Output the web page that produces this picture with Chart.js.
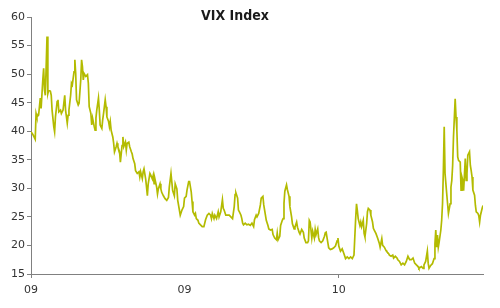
<!DOCTYPE html>
<html>
<head>
<meta charset="utf-8">
<script src="https://cdn.jsdelivr.net/npm/chart.js@4.4.1/dist/chart.umd.min.js"></script>
<style>
  html, body { margin: 0; padding: 0; background: #fff; }
  #wrap { width: 500px; height: 308px; }
</style>
</head>
<body>
<div id="wrap"><canvas id="chart"></canvas></div>
<script>
// dias desde 1 jan 2009 (leitura aproximada do gráfico)
const days = [
  0, 2, 5, 6, 7, 9, 11, 12, 14, 15, 16, 17, 19, 20, 21, 23, 24, 25, 27, 28,
  29, 31, 32, 33, 35, 36, 38, 40, 41, 43, 44, 45, 47, 48, 49, 51, 52, 53, 54, 56,
  57, 59, 60, 61, 62, 63, 65, 67, 68, 69, 71, 72, 73, 75, 76, 77, 78, 80, 81, 82,
  84, 85, 86, 88, 89, 90, 92, 93, 94, 95, 97, 98, 99, 101, 102, 103, 105, 106, 108, 109,
  110, 112, 113, 114, 116, 117, 119, 120, 121, 123, 124, 126, 128, 129, 130, 132, 133, 134, 136, 137,
  138, 139, 141, 142, 144, 145, 146, 147, 149, 150, 151, 153, 154, 155, 157, 159, 161, 163, 164, 166,
  167, 168, 170, 171, 173, 174, 177, 179, 181, 182, 184, 185, 187, 188, 190, 191, 192, 194, 195, 196,
  198, 199, 201, 203, 205, 207, 209, 211, 213, 214, 215, 217, 218, 220, 222, 223, 225, 227, 228, 229,
  231, 233, 235, 237, 239, 241, 242, 243, 245, 246, 247, 249, 250, 251, 252, 254, 256, 258, 260, 262,
  264, 265, 267, 268, 270, 272, 273, 275, 276, 278, 279, 281, 282, 284, 286, 287, 289, 291, 292, 293,
  295, 296, 298, 299, 300, 301, 303, 304, 306, 307, 309, 310, 312, 313, 315, 316, 318, 319, 321, 323,
  324, 326, 328, 329, 330, 331, 333, 334, 336, 337, 338, 340, 341, 342, 344, 346, 348, 349, 350, 352,
  353, 355, 357, 359, 361, 363, 364, 365, 367, 369, 371, 373, 375, 377, 379, 381, 383, 385, 386, 387,
  388, 390, 391, 392, 394, 395, 396, 398, 399, 400, 402, 403, 405, 406, 407, 409, 411, 413, 414, 416,
  417, 419, 421, 422, 424, 425, 427, 429, 430, 432, 434, 435, 437, 439, 441, 443, 445, 447, 449, 451,
  453, 455, 457, 459, 460, 463, 465, 466, 468, 470, 471, 472, 474, 476, 478, 479, 480, 481, 482, 483,
  484, 486, 487, 488, 489, 490, 491, 493, 494, 495, 497, 498, 499, 500, 501, 503, 504, 505, 506, 507,
  509, 510, 511, 512, 513, 515, 516, 517, 518, 520, 521, 522, 523, 524, 526, 527, 528, 530, 531, 532,
  533, 535, 536
];

const vix = [
  39.9, 39.5, 38.6, 43.1, 42.5, 42.8, 45.8, 44.0, 49.0, 51.0, 47.2, 46.3, 56.6, 46.6, 47.2, 47.0, 46.3, 43.7, 40.8, 39.9,
  42.5, 45.2, 45.5, 43.4, 43.7, 43.1, 43.7, 46.3, 43.7, 41.4, 42.8, 43.7, 46.3, 48.4, 48.1, 50.4, 52.5, 50.1, 45.5, 44.6,
  44.9, 49.0, 52.5, 51.3, 49.0, 50.1, 49.6, 49.9, 48.4, 44.3, 43.1, 41.1, 42.3, 40.8, 40.2, 42.3, 43.7, 45.8, 43.7, 41.1,
  40.5, 42.0, 43.1, 45.5, 44.3, 42.5, 41.7, 40.8, 41.7, 40.2, 39.0, 37.9, 36.4, 37.3, 37.9, 37.3, 36.4, 34.6, 37.5, 39.0,
  37.3, 38.1, 36.7, 37.9, 38.1, 37.3, 36.4, 36.0, 35.2, 34.3, 33.1, 32.6, 32.9, 32.0, 32.9, 31.7, 32.9, 33.4, 31.6, 30.2,
  28.7, 30.8, 32.6, 32.3, 31.6, 32.3, 30.8, 31.6, 30.2, 29.0, 29.9, 30.8, 29.9, 29.3, 28.7, 28.2, 27.9, 28.4, 30.2, 32.6,
  31.1, 29.6, 28.7, 30.8, 29.9, 27.9, 25.3, 26.2, 26.8, 28.3, 28.6, 29.7, 31.2, 31.2, 29.4, 27.7, 25.9, 25.3, 25.6, 24.7,
  24.4, 23.9, 23.6, 23.3, 23.3, 24.5, 25.3, 25.6, 25.3, 24.7, 25.6, 24.7, 25.3, 24.7, 25.9, 25.0, 25.9, 28.0, 26.5, 26.2,
  25.3, 25.3, 25.3, 25.0, 24.7, 26.8, 28.9, 29.2, 28.3, 26.2, 25.9, 25.3, 24.7, 23.9, 23.6, 23.9, 23.6, 23.7, 23.5, 23.9,
  23.3, 24.5, 25.3, 25.0, 25.6, 27.1, 28.3, 28.6, 27.1, 25.3, 24.4, 23.5, 22.9, 22.7, 22.8, 21.9, 21.3, 21.0, 22.2, 21.0,
  21.6, 23.5, 24.4, 24.7, 27.4, 29.5, 30.6, 29.8, 28.6, 26.8, 25.0, 23.8, 22.9, 23.2, 24.1, 23.2, 22.3, 22.0, 22.8, 22.3,
  21.3, 20.5, 20.5, 20.8, 24.4, 24.1, 21.3, 22.5, 21.3, 22.8, 21.9, 22.9, 21.4, 20.8, 20.5, 20.8, 21.6, 22.2, 22.3, 20.5,
  19.6, 19.3, 19.4, 19.6, 19.9, 20.8, 21.3, 19.9, 19.0, 19.4, 18.6, 17.7, 18.0, 17.7, 18.0, 17.7, 18.3, 24.7, 27.3, 26.1,
  24.7, 23.5, 24.1, 23.3, 24.4, 22.1, 21.5, 23.8, 25.9, 26.5, 26.2, 25.3, 24.1, 23.0, 22.7, 22.1, 21.3, 20.4, 19.7, 21.2,
  20.0, 19.7, 19.1, 18.9, 18.6, 18.3, 18.1, 18.3, 17.8, 18.1, 17.8, 17.5, 17.2, 16.6, 16.9, 16.6, 17.2, 18.1, 17.5, 17.5,
  17.8, 16.9, 16.6, 16.3, 16.0, 16.3, 16.0, 16.6, 17.2, 19.0, 16.9, 16.0, 16.5, 16.8, 17.7, 20.3, 22.7, 19.7, 21.8, 19.7,
  20.6, 22.7, 24.4, 27.3, 33.1, 40.8, 32.6, 29.0, 27.3, 25.6, 27.3, 30.2, 31.4, 34.0, 39.0, 45.7, 42.5, 40.2, 35.5, 34.9,
  34.6, 29.7, 32.0, 31.4, 29.6, 35.2, 31.4, 32.6, 35.8, 36.4, 34.0, 33.1, 32.0, 29.7, 28.8, 27.0, 25.9, 25.6, 25.2, 24.1,
  25.3, 26.5, 27.0
];

const tickDays = [0, 182, 365];
const tickLabels = ["09", "09", "10"];
const titulo = "VIX Index";

const pontos = days.map((d, i) => ({ x: d, y: vix[i] }));

// título desenhado à mão, um pouco à esquerda do centro
const tituloPlugin = {
  id: "tituloVix",
  afterDraw(chart) {
    const ctx = chart.ctx;
    ctx.save();
    ctx.font = "bold 14px 'DejaVu Sans Condensed', 'Liberation Sans Narrow', 'DejaVu Sans', sans-serif";
    ctx.fillStyle = "#1a1a1a";
    ctx.textAlign = "center";
    ctx.textBaseline = "middle";
    ctx.fillText(titulo, 235, 16);
    ctx.restore();
  }
};

new Chart(document.getElementById("chart"), {
  type: "line",
  data: {
    datasets: [{
      data: pontos,
      borderColor: "#b3bb00",
      borderWidth: 1.7,
      fill: false,
      pointRadius: 0,
      tension: 0
    }]
  },
  options: {
    responsive: true,
    maintainAspectRatio: false,
    animation: false,
    layout: { padding: { top: 17, right: 17, left: 0, bottom: 0 } },
    plugins: {
      legend: { display: false },
      tooltip: { enabled: false }
    },
    scales: {
      x: {
        type: "linear",
        min: 0,
        max: 536,
        afterBuildTicks: (scale) => {
          scale.ticks = tickDays.map(v => ({ value: v }));
        },
        afterFit: (scale) => { scale.height = 34; },
        border: { display: true, color: "#808080", width: 1 },
        grid: {
          drawOnChartArea: false,
          drawTicks: true,
          tickLength: 4,
          tickColor: (c) => c.index === 1 ? "rgba(0,0,0,0)" : "#808080"
        },
        ticks: {
          autoSkip: false,
          maxRotation: 0,
          padding: 6,
          color: "#333",
          font: { family: "'DejaVu Sans', sans-serif", size: 11 },
          callback: (value, index) => tickLabels[index]
        }
      },
      y: {
        min: 15,
        max: 60,
        afterFit: (scale) => { scale.width = 31; },
        border: { display: true, color: "#808080", width: 1 },
        grid: {
          drawOnChartArea: false,
          drawTicks: true,
          tickLength: 4,
          tickColor: "#808080"
        },
        ticks: {
          stepSize: 5,
          padding: 2,
          color: "#333",
          font: { family: "'DejaVu Sans', sans-serif", size: 11 }
        }
      }
    }
  },
  plugins: [tituloPlugin]
});
</script>
</body>
</html>
